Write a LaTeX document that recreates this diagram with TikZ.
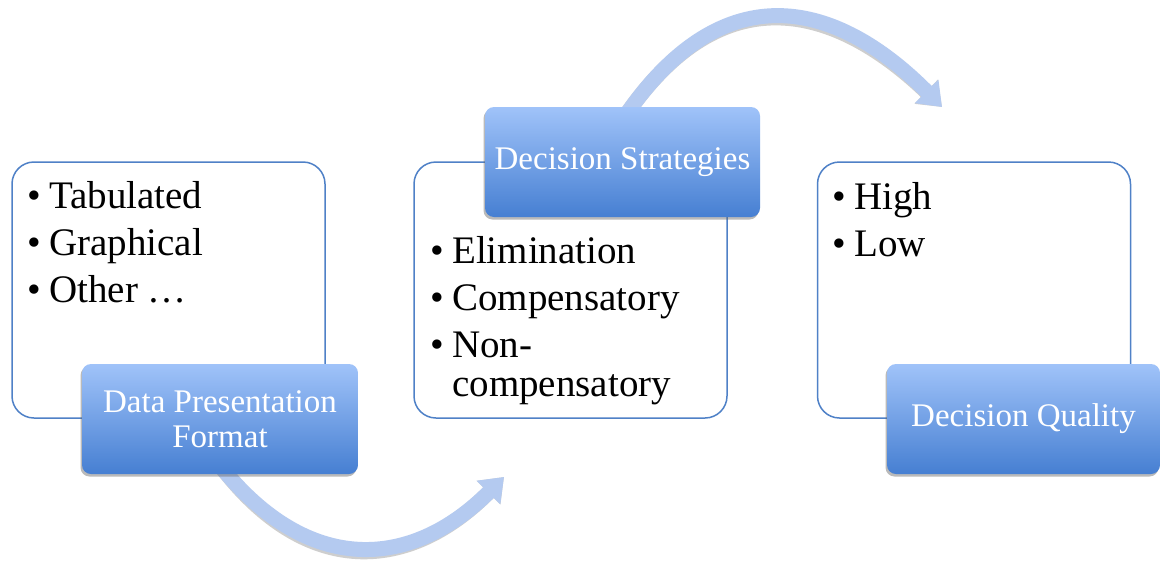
\documentclass[tikz,border=0pt]{standalone}
\usepackage{fontspec}
\setmainfont{Liberation Serif}
\usetikzlibrary{arrows.meta,shadows}
\definecolor{boxline}{RGB}{79,129,199}
\definecolor{labtop}{RGB}{160,195,249}
\definecolor{labbot}{RGB}{70,127,210}
\definecolor{arrowc}{RGB}{180,202,240}
\newcommand\bulit{\makebox[22pt][l]{\textbullet}}
\begin{document}
\begin{tikzpicture}[x=1pt,y=-1pt,
  listbox/.style={draw=boxline, line width=1.5pt, fill=white, rounded corners=22pt,
    minimum width=313pt, minimum height=256pt, inner sep=0pt},
  labelbox/.style={rounded corners=9pt, top color=labtop, bottom color=labbot,
    text=white, font=\fontsize{33}{35}\selectfont, align=center,
    minimum height=110pt, inner sep=0pt,
    drop shadow={shadow xshift=-1.5pt, shadow yshift=-2.5pt, opacity=0.45, fill=black!60}},
  itemtext/.style={anchor=base west, align=left, inner sep=0pt,
    font=\fontsize{39}{39}\selectfont},
  flow/.style={line width=15pt, draw=arrowc, -{Triangle[width=32pt,length=22pt]}},
  flowshadow/.style={line width=15pt, draw=black!55, opacity=0.35,
    -{Triangle[width=32pt,length=22pt]}, xshift=-2pt, yshift=-3pt},
]
\useasboundingbox (0,0) rectangle (1161,568);
\fill[white] (0,0) rectangle (1161,568);

% list boxes
\node[listbox] (b1) at (168.5,290) {};
\node[listbox] (b2) at (570.5,290) {};
\node[listbox] (b3) at (974,290) {};

% list texts (anchored at the baseline of their last line)
\node[itemtext] (t1) at (27,302) {\bulit Tabulated\\[8pt]\bulit Graphical\\[8pt]\bulit Other \dots};
\node[itemtext] (t2) at (430,396) {\bulit Elimination\\[8pt]\bulit Compensatory\\[8pt]\bulit Non-\\\hspace*{22pt}compensatory};
\node[itemtext] (t3) at (832,256) {\bulit High\\[8pt]\bulit Low};

% arrows
\coordinate (a1s) at (222,468);
\coordinate (a1e) at (504,477);
\coordinate (a2s) at (628,112);
\coordinate (a2e) at (942,107);
\draw[flowshadow] (a1s) .. controls (308,574) and (410,571) .. (a1e);
\draw[flow] (a1s) .. controls (308,574) and (410,571) .. (a1e);
\draw[flowshadow] (a2s) .. controls (731,-34) and (844,8) .. (a2e);
\draw[flow] (a2s) .. controls (731,-34) and (844,8) .. (a2e);

% label boxes
\node[labelbox, minimum width=276pt] (l1) at (220,419) {Data Presentation\\Format};
\node[labelbox, minimum width=275pt] (l2) at (622.5,162) {Decision Strategies};
\node[labelbox, minimum width=273pt] (l3) at (1023.5,419) {Decision Quality};
\end{tikzpicture}
\end{document}
